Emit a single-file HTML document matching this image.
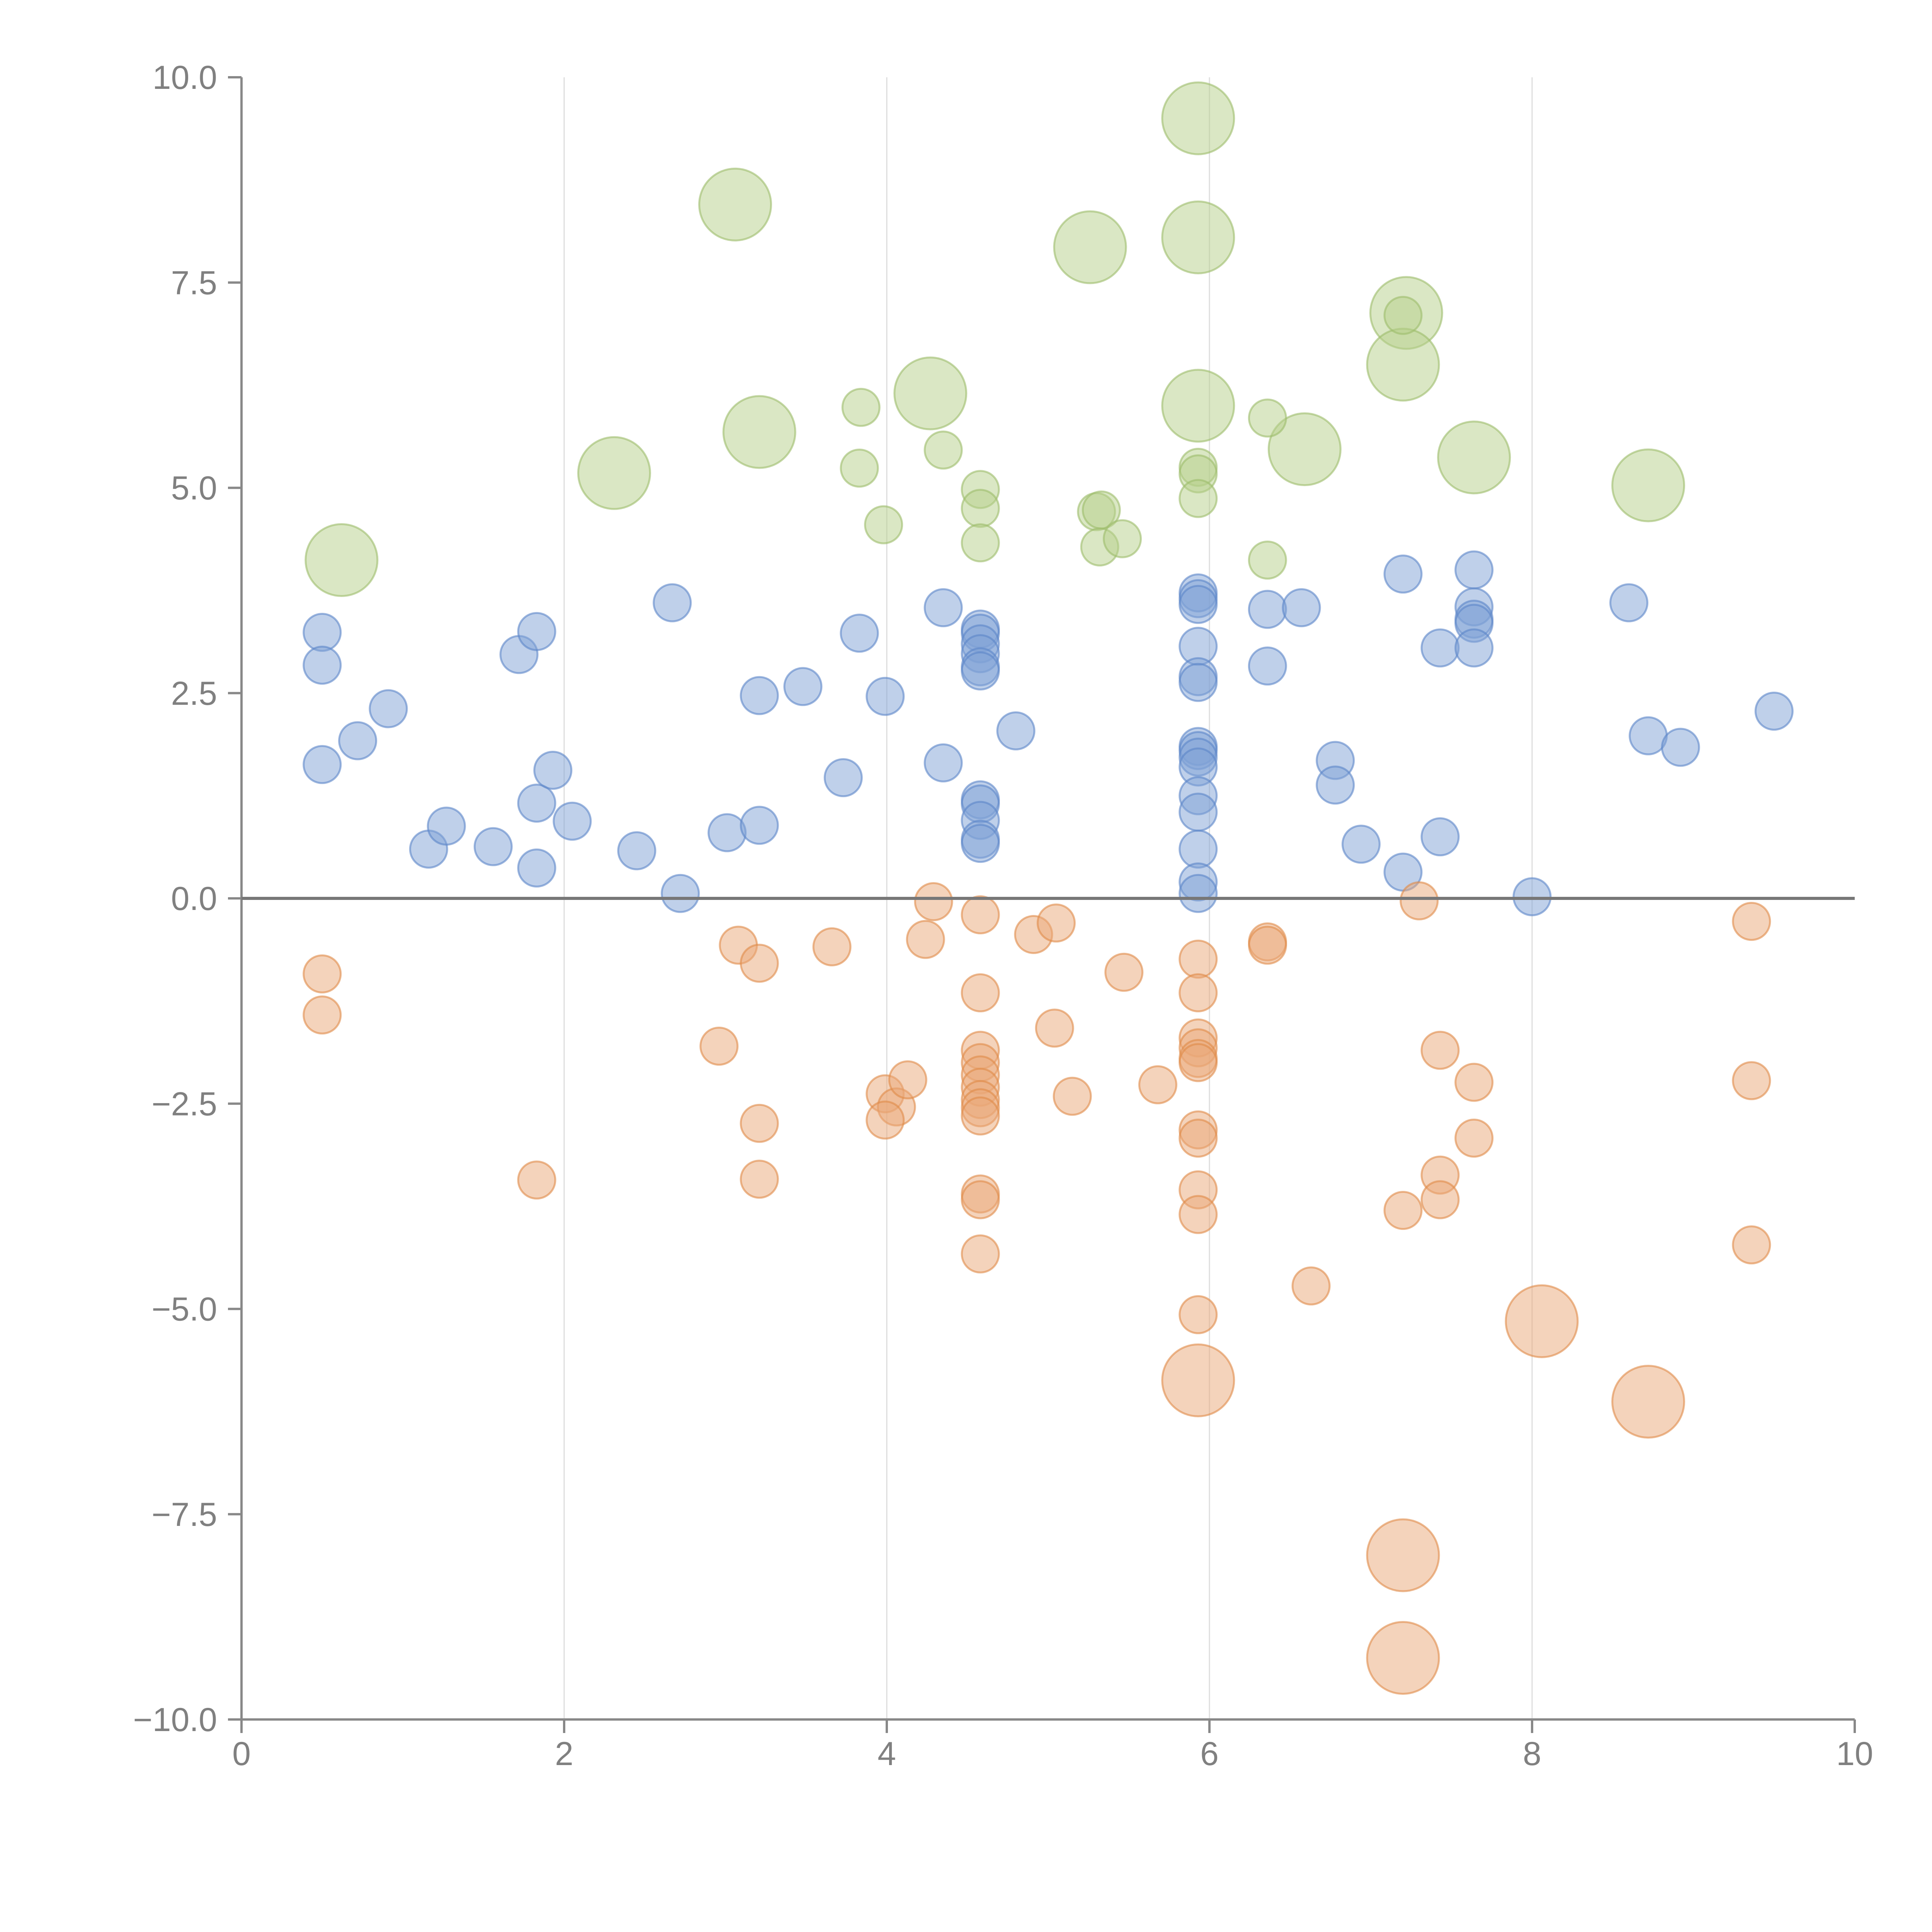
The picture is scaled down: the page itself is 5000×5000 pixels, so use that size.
<!DOCTYPE html>
<html><head><meta charset="utf-8"><style>html,body{margin:0;padding:0;background:#fff}svg{display:block}</style></head>
<body>
<svg id="chart" width="5000" height="5000" xmlns="http://www.w3.org/2000/svg"></svg>
<script>
const xTicks=[0,2,4,6,8,10];
const yTicks=[-10,-7.5,-5,-2.5,0,2.5,5,7.5,10];
const greenBigX=[0.62,2.31,3.06,3.21,4.27,5.26,5.93,5.93,5.93,6.59,7.22,7.2,7.64,8.72];
const greenBigY=[4.12,5.18,8.45,5.68,6.15,7.93,9.5,8.05,6.0,5.47,7.13,6.5,5.37,5.03];
const greenX=[3.84,3.83,4.35,3.98,4.58,4.58,4.58,5.3,5.33,5.32,5.46,5.93,5.93,5.93,6.36,6.36,7.2];
const greenY=[5.98,5.24,5.46,4.55,4.98,4.75,4.33,4.71,4.73,4.28,4.38,5.25,5.17,4.87,5.85,4.12,7.1];
const blueX=[0.5,0.5,0.5,0.72,0.91,1.16,1.27,1.56,1.72,1.83,1.83,1.83,1.93,2.05,2.45,2.67,2.72,3.01,3.21,3.21,3.48,3.73,3.83,3.99,4.35,4.35,4.58,4.58,4.58,4.58,4.58,4.58,4.58,4.58,4.58,4.58,4.58,4.8,5.93,5.93,5.93,5.93,5.93,5.93,5.93,5.93,5.93,5.93,5.93,5.93,5.93,5.93,5.93,6.36,6.36,6.57,6.78,6.78,6.94,7.2,7.2,7.43,7.43,7.64,7.64,7.64,7.64,7.64,8.0,8.6,8.72,8.92,9.5];
const blueY=[3.24,2.84,1.63,1.92,2.31,0.6,0.88,0.63,2.97,3.25,1.16,0.37,1.56,0.94,0.58,3.6,0.06,0.8,2.47,0.89,2.58,1.47,3.23,2.46,3.54,1.65,3.28,3.23,3.1,2.98,2.82,2.77,1.2,1.15,0.95,0.72,0.67,2.04,3.72,3.65,3.58,3.07,2.7,2.63,1.85,1.8,1.72,1.6,1.25,1.05,0.6,0.2,0.06,3.52,2.83,3.54,1.68,1.38,0.66,3.95,0.32,3.05,0.75,4.0,3.55,3.4,3.35,3.05,0.02,3.6,1.98,1.84,2.28];
const orangeX=[0.5,0.5,1.83,2.96,3.08,3.21,3.21,3.21,3.66,3.99,4.06,4.13,3.99,4.24,4.29,4.58,4.58,4.58,4.58,4.58,4.58,4.58,4.58,4.58,4.58,4.58,4.58,4.91,5.05,5.04,5.15,5.47,5.68,5.93,5.93,5.93,5.93,5.93,5.93,5.93,5.93,5.93,5.93,5.93,6.36,6.36,6.63,7.2,7.3,7.43,7.43,7.43,7.64,7.64,9.36,9.36,9.36];
const orangeY=[-0.92,-1.42,-3.43,-1.8,-0.57,-0.79,-2.74,-3.42,-0.59,-2.38,-2.54,-2.21,-2.7,-0.5,-0.04,-0.2,-1.15,-1.85,-2.0,-2.15,-2.3,-2.45,-2.55,-2.65,-3.6,-3.67,-4.33,-0.44,-0.3,-1.58,-2.41,-0.9,-2.27,-0.74,-1.15,-1.7,-1.82,-1.95,-2.0,-2.82,-2.92,-3.55,-3.85,-5.07,-0.53,-0.57,-4.72,-3.8,-0.03,-1.85,-3.37,-3.67,-2.24,-2.92,-0.28,-2.22,-4.22];
const orangeBigX=[5.93,8.06,8.72,7.2,7.2];
const orangeBigY=[-5.87,-5.15,-6.13,-8.0,-9.25];

const NS="http://www.w3.org/2000/svg";
const svg=document.getElementById('chart');
const X0=625,X1=4800,Y0=4450,Y1=200;
const sx=v=>X0+(v-0)/(10-0)*(X1-X0);
const sy=v=>Y0-(v+10)/20*(Y0-Y1);
function mk(tag,attrs){const e=document.createElementNS(NS,tag);for(const k in attrs)e.setAttribute(k,attrs[k]);svg.appendChild(e);return e;}

xTicks.forEach(t=>{if(t>0&&t<10){const g=mk('line',{x1:sx(t),x2:sx(t),y1:Y1,y2:Y0,stroke:'#dddddd','stroke-width':3});

}});
const ya=mk('line',{x1:X0,x2:X0,y1:Y1,y2:Y0,stroke:'#888','stroke-width':6});


const xa=mk('line',{x1:X0,x2:X1,y1:Y0,y2:Y0,stroke:'#888','stroke-width':6});


xTicks.forEach(t=>{
 const l=mk('line',{x1:sx(t),x2:sx(t),y1:Y0,y2:Y0+35,stroke:'#888','stroke-width':6});
 
 
 const tx=mk('text',{x:sx(t),y:Y0+118,'text-anchor':'middle','font-family':'Liberation Sans, sans-serif','font-size':86,fill:'#808080'});
 tx.textContent=String(t);
 
 
});
yTicks.forEach(t=>{
 const l=mk('line',{x1:X0-35,x2:X0,y1:sy(t),y2:sy(t),stroke:'#888','stroke-width':6});
 
 
 const tx=mk('text',{x:X0-63,y:sy(t)+30,'text-anchor':'end','font-family':'Liberation Sans, sans-serif','font-size':86,fill:'#808080'});
 tx.textContent=(t<0?'\u2212':'')+Math.abs(t).toFixed(1);
 
 
});
function series(xs,ys,r,fill,stroke,name){
 xs.forEach((x,i)=>{
  const c=mk('circle',{cx:sx(x),cy:sy(ys[i]),r:r,fill:fill,'fill-opacity':0.5,stroke:stroke,'stroke-opacity':0.6,'stroke-width':5});
  
  
 });
}
series(blueX,blueY,48,'#7fa2d6','#5b86c8','blue-point');
series(orangeX,orangeY,48,'#e9a877','#e08a48','orange-point');
series(orangeBigX,orangeBigY,93,'#e9a877','#e08a48','orange-big-point');
series(greenBigX,greenBigY,93,'#b5cf8a','#9dbd6a','green-big-point');
series(greenX,greenY,48,'#b5cf8a','#9dbd6a','green-point');
const z=mk('line',{x1:X0,x2:X1,y1:sy(0),y2:sy(0),stroke:'#777','stroke-width':8});


</script>
</body></html>
